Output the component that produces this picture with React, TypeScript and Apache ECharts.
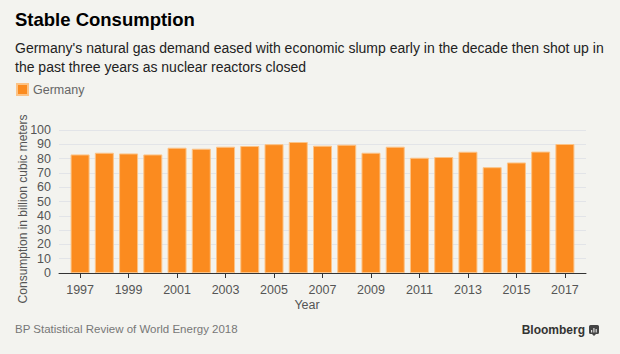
import React, { useEffect, useRef } from "react";
import * as echarts from "echarts";

const years = [1997, 1998, 1999, 2000, 2001, 2002, 2003, 2004, 2005, 2006, 2007, 2008, 2009, 2010, 2011, 2012, 2013, 2014, 2015, 2016, 2017];
const consumption = [82.9, 84.1, 83.6, 82.9, 87.6, 86.9, 88.3, 88.8, 90.1, 91.6, 89.0, 89.7, 84.1, 88.3, 80.6, 81.1, 84.8, 74.0, 77.3, 84.9, 90.2];
const tickYears = [1997, 1999, 2001, 2003, 2005, 2007, 2009, 2011, 2013, 2015, 2017];
const seriesName = "Germany";

const FONT = "'Liberation Sans', Arial, sans-serif";

export default function App() {
  const ref = useRef<HTMLDivElement>(null);
  useEffect(() => {
    document.body.style.margin = "0";
    const chart = echarts.init(ref.current!, null, { renderer: "svg" });
    chart.setOption({
      animation: false,
      backgroundColor: "#f3f3ef",
      textStyle: { fontFamily: FONT },
      grid: { left: 59, right: 34, top: 130, bottom: 81, containLabel: false },
      legend: {
        show: true,
        left: 16,
        top: 83,
        padding: 0,
        icon: "rect",
        itemWidth: 11,
        itemHeight: 11,
        itemGap: 10,
        textStyle: { color: "#666", fontSize: 12.5, fontFamily: FONT },
        data: [seriesName],
      },
      xAxis: {
        type: "value",
        min: 1996.13,
        max: 2017.87,
        splitLine: { show: false },
        axisLine: { show: true, onZero: false, lineStyle: { color: "#333", width: 1 } },
        axisTick: { show: true, length: 5, customValues: tickYears, lineStyle: { color: "#333" } },
        axisLabel: {
          customValues: tickYears,
          formatter: (v: number) => String(v),
          color: "#555",
          fontSize: 12.5,
          margin: 10,
          fontFamily: FONT,
        },
      },
      yAxis: {
        type: "value",
        min: 0,
        max: 100,
        interval: 10,
        axisLine: { show: false },
        axisTick: { show: false },
        splitLine: { show: true, lineStyle: { color: "#e2e4e8", width: 1 } },
        axisLabel: { color: "#555", fontSize: 12.5, margin: 8, fontFamily: FONT },
      },
      series: [
        {
          name: seriesName,
          type: "bar",
          barWidth: 19,
          data: years.map((y, i) => [y, consumption[i]]),
          itemStyle: { color: "#fb8b1f", borderColor: "#fcc386", borderWidth: 1 },
        },
      ],
      graphic: [
        {
          type: "text",
          left: 15,
          top: 10,
          style: { text: "Stable Consumption", font: `bold 18.5px ${FONT}`, fill: "#000" },
        },
        {
          type: "text",
          left: 15,
          top: 38,
          style: {
            text: "Germany's natural gas demand eased with economic slump early in the decade then shot up in\nthe past three years as nuclear reactors closed",
            font: `14px ${FONT}`,
            fill: "#222",
            lineHeight: 19,
          },
        },
        {
          type: "text",
          x: 23,
          y: 209,
          rotation: Math.PI / 2,
          style: {
            text: "Consumption in billion cubic meters",
            font: `12px ${FONT}`,
            fill: "#555",
            align: "center",
            verticalAlign: "middle",
          },
        },
        {
          type: "text",
          x: 307,
          y: 305,
          style: { text: "Year", font: `12.5px ${FONT}`, fill: "#555", align: "center", verticalAlign: "middle" },
        },
        {
          type: "text",
          x: 15,
          y: 329,
          style: { text: "BP Statistical Review of World Energy 2018", font: `11.5px ${FONT}`, fill: "#777", verticalAlign: "middle" },
        },
        {
          type: "text",
          x: 585,
          y: 330,
          style: { text: "Bloomberg", font: `bold 12px ${FONT}`, fill: "#333", align: "right", verticalAlign: "middle" },
        },
        {
          type: "group",
          x: 589,
          y: 325,
          children: [
            { type: "rect", shape: { x: 0, y: 0, width: 10, height: 9, r: 1.5 }, style: { fill: "#444" } },
            { type: "polygon", shape: { points: [[3, 9], [7, 9], [5, 11]] }, style: { fill: "#444" } },
            { type: "rect", shape: { x: 2, y: 5, width: 1.2, height: 2.5 }, style: { fill: "#ddd" } },
            { type: "rect", shape: { x: 4.3, y: 3, width: 1.2, height: 4.5 }, style: { fill: "#ddd" } },
            { type: "rect", shape: { x: 6.6, y: 4, width: 1.2, height: 3.5 }, style: { fill: "#ddd" } },
          ],
        },
      ],
    });
    return () => chart.dispose();
  }, []);
  return <div ref={ref} style={{ position: "fixed", left: 0, top: 0, width: 620, height: 354 }} />;
}
